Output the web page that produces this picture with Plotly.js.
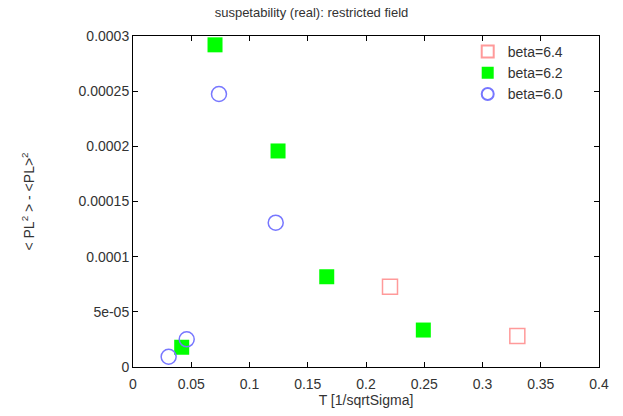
<!DOCTYPE html>
<html>
<head>
<meta charset="utf-8">
<script src="https://cdn.plot.ly/plotly-3.0.1.min.js"></script>
<style>html,body{margin:0;padding:0;background:#fff;}#chart{width:623px;height:416px;}</style>
</head>
<body>
<div id="chart"></div>
<script>
// beta = 6.4
const x64 = [0.2206, 0.3299];
const y64 = [0.0000728, 0.0000281];
// beta = 6.2
const x62 = [0.0418, 0.0704, 0.1245, 0.1663, 0.2492];
const y62 = [0.0000179, 0.000292, 0.0001958, 0.0000818, 0.0000335];
// beta = 6.0
const x60 = [0.0306, 0.0461, 0.0738, 0.1225];
const y60 = [0.0000093, 0.0000251, 0.0002474, 0.0001308];

const xTickVals = [0, 0.05, 0.1, 0.15, 0.2, 0.25, 0.3, 0.35, 0.4];
const xTickText = ["0", "0.05", "0.1", "0.15", "0.2", "0.25", "0.3", "0.35", "0.4"];
const yTickVals = [0, 0.00005, 0.0001, 0.00015, 0.0002, 0.00025, 0.0003];
const yTickText = ["0", "5e-05", "0.0001", "0.00015", "0.0002", "0.00025", "0.0003"];

const fam = "Liberation Sans, Arial, sans-serif";
const tickFont = {family: fam, size: 14, color: "#333"};
const axTitleFont = {family: fam, size: 14, color: "#333"};
const titleFont = {family: fam, size: 13, color: "#333"};
const legFont = {family: fam, size: 14, color: "#333"};

const traces = [
  {x: x64, y: y64, name: "beta=6.4", type: "scatter", mode: "markers",
   marker: {symbol: "square-open", size: 15, color: "#ff9a9a", line: {width: 1.5, color: "#ff9a9a"}}},
  {x: x62, y: y62, name: "beta=6.2", type: "scatter", mode: "markers",
   marker: {symbol: "square", size: 15, color: "#00ff00", line: {width: 0}}},
  {x: x60, y: y60, name: "beta=6.0", type: "scatter", mode: "markers",
   marker: {symbol: "circle-open", size: 15, color: "#7777ff", line: {width: 1.5, color: "#7777ff"}}}
];

const axisCommon = {
  showgrid: false, zeroline: false, showline: true, linecolor: "#000", linewidth: 1,
  mirror: "ticks", ticks: "inside", ticklen: 5, tickcolor: "#000", tickwidth: 1,
  tickfont: tickFont
};

const layout = {
  width: 623, height: 416,
  margin: {l: 133, r: 24, t: 36, b: 49},
  paper_bgcolor: "#fff", plot_bgcolor: "#fff",
  font: tickFont,
  title: {text: "suspetability (real): restricted field", font: titleFont, x: 0.5, xref: "container", y: 0.969, yref: "container", yanchor: "middle"},
  xaxis: Object.assign({}, axisCommon, {
    range: [0, 0.4], tickvals: xTickVals, ticktext: xTickText, ticklabelstandoff: 4,
    title: {text: "T [1/sqrtSigma]", font: axTitleFont, standoff: 4}
  }),
  yaxis: Object.assign({}, axisCommon, {
    range: [0, 0.0003], tickvals: yTickVals, ticktext: yTickText,
    title: {text: "&lt; PL<sup>2</sup> &gt; - &lt;PL&gt;<sup>2</sup>", font: axTitleFont, standoff: 40}
  }),
  showlegend: true,
  legend: {x: 0.935, xanchor: "right", y: 1.0, yanchor: "top", bgcolor: "rgba(0,0,0,0)",
           font: legFont, tracegroupgap: 0, itemsizing: "constant"}
};

Plotly.newPlot("chart", traces, layout, {displayModeBar: false, staticPlot: true});
</script>
</body>
</html>
